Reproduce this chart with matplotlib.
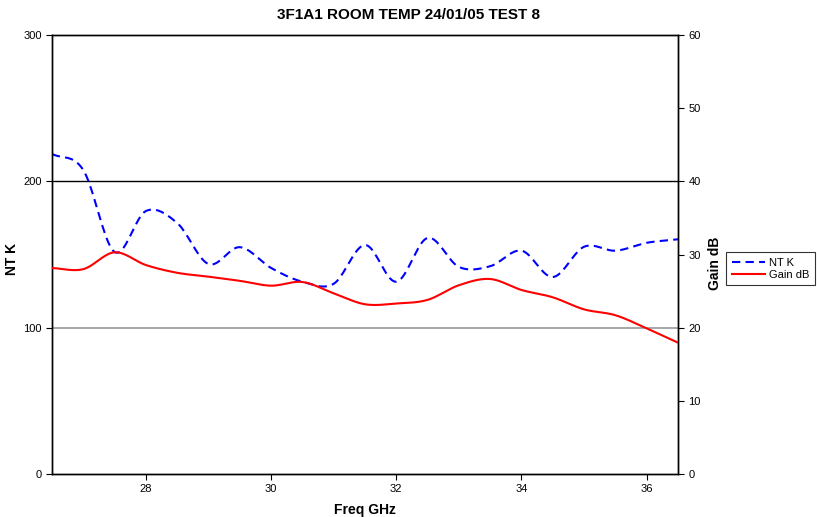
import numpy as np
import matplotlib
matplotlib.use("Agg")
import matplotlib.pyplot as plt
from matplotlib import font_manager as fm

freq = [26.5, 27.0, 27.5, 28.0, 28.5, 29.0, 29.5, 30.0, 30.5, 31.0, 31.5, 32.0,
        32.5, 33.0, 33.5, 34.0, 34.5, 35.0, 35.5, 36.0, 36.5]
nt_k = [218.7, 207.7, 151.7, 179.7, 171.5, 143.5, 155.0, 140.8, 131.4, 130.0, 156.5,
        131.4, 161.3, 141.5, 142.0, 152.6, 134.6, 155.3, 152.6, 158.0, 160.4]
gain_db = [28.15, 28.0, 30.3, 28.56, 27.5, 26.97, 26.4, 25.74, 26.24, 24.7, 23.2,
           23.3, 23.8, 25.8, 26.65, 25.15, 24.15, 22.5, 21.7, 19.9, 17.95]

names = {f.name for f in fm.fontManager.ttflist}
narrow = "Liberation Sans Narrow" if "Liberation Sans Narrow" in names else "Liberation Sans"
plt.rcParams['font.family'] = ['Liberation Sans', 'DejaVu Sans']


def smooth(x, y, n=20):
    # Catmull-Rom style smoothing for display (like a spreadsheet "smoothed line")
    x = np.asarray(x, float); y = np.asarray(y, float)
    px = np.concatenate([[2 * x[0] - x[1]], x, [2 * x[-1] - x[-2]]])
    py = np.concatenate([[2 * y[0] - y[1]], y, [2 * y[-1] - y[-2]]])
    xs, ys = [], []
    for i in range(1, len(px) - 2):
        t = np.linspace(0, 1, n, endpoint=(i == len(px) - 3))
        for P, out in ((px, xs), (py, ys)):
            p0, p1, p2, p3 = P[i - 1], P[i], P[i + 1], P[i + 2]
            out.extend(0.5 * ((2 * p1) + (-p0 + p2) * t + (2 * p0 - 5 * p1 + 4 * p2 - p3) * t ** 2
                              + (-p0 + 3 * p1 - 3 * p2 + p3) * t ** 3))
    return np.array(xs), np.array(ys)


fig = plt.figure(figsize=(8.17, 5.17), dpi=100)
ax = fig.add_axes([52 / 817, 43 / 517, 626 / 817, 439 / 517])
ax2 = ax.twinx()

ax.set_xlim(26.5, 36.5)
ax.set_ylim(0, 300)
ax2.set_ylim(0, 60)

ax.axhline(100, color='#999999', lw=1.2, zorder=1)
ax.axhline(200, color='black', lw=1.0, zorder=1)

sx, sy = smooth(freq, nt_k)
l1, = ax.plot(sx, sy, color='#0000ff', lw=1.5, ls=(0, (4, 2.5)), label='NT K', zorder=3)
gx, gy = smooth(freq, gain_db)
l2, = ax2.plot(gx, gy, color='#ff0000', lw=1.5, label='Gain dB', zorder=3)

ax.set_xticks([28, 30, 32, 34, 36])
ax.set_yticks([0, 100, 200, 300])
ax2.set_yticks([0, 10, 20, 30, 40, 50, 60])
for a in (ax, ax2):
    a.tick_params(labelsize=8, length=4, width=0.8, direction='out')
    for lab in a.get_xticklabels() + a.get_yticklabels():
        lab.set_fontfamily(narrow)
    for s in a.spines.values():
        s.set_linewidth(1.0)

ax.set_xlabel('Freq GHz', fontsize=10, fontweight='bold', labelpad=6)
ax.set_ylabel('NT K', fontsize=10, fontweight='bold')
ax.yaxis.set_label_coords((19 - 52) / 626, 0.49)
ax2.set_ylabel('Gain dB', fontsize=10, fontweight='bold')
ax2.yaxis.set_label_coords((708 - 52) / 626, 0.48)
fig.suptitle('3F1A1 ROOM TEMP 24/01/05 TEST 8', fontsize=11, fontweight='bold', y=0.985)

leg = fig.legend(handles=[l1, l2], loc='upper left', bbox_to_anchor=(726 / 817, 1 - 252 / 517),
                 fontsize=8, frameon=True, fancybox=False, edgecolor='black',
                 handlelength=3.0, borderpad=0.5, labelspacing=0.2, handletextpad=0.4,
                 borderaxespad=0)
leg.get_frame().set_linewidth(0.8)

fig.savefig('out.png', dpi=100)
